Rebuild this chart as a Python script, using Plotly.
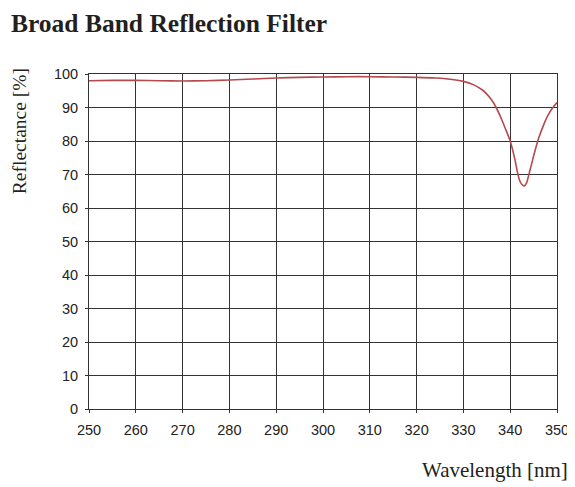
import plotly.graph_objects as go

# wavelength [nm] and reflectance [%]
wavelength = [250, 255, 260, 265, 270, 275, 280, 285, 290, 295, 300, 305, 310, 315, 320,
              324, 328, 330, 332, 334, 335, 336, 337, 338, 339, 340, 341, 341.5, 342, 342.5,
              343, 343.5, 344, 345, 346, 347, 348, 349, 350]
reflectance = [98.0, 98.1, 98.1, 98.0, 97.9, 98.0, 98.2, 98.5, 98.8, 99.0, 99.1, 99.2, 99.2, 99.1, 99.0,
               98.8, 98.3, 97.8, 96.9, 95.3, 94.0, 92.3, 90.0, 87.0, 83.6, 80.0, 74.5, 71.0, 68.3, 67.0,
               66.6, 67.5, 70.0, 75.5, 80.5, 84.3, 87.5, 89.8, 91.5]

xticks = list(range(250, 351, 10))
yticks = list(range(0, 101, 10))

fig = go.Figure()
fig.add_trace(go.Scatter(x=wavelength, y=reflectance, mode='lines',
                         line=dict(color='#b44a4e', width=1.6, shape='spline', smoothing=0.6),
                         showlegend=False))

axis_common = dict(showgrid=True, gridcolor='#333333', gridwidth=1,
                   showline=True, linecolor='#333333', linewidth=1, mirror=True,
                   ticks='outside', ticklen=3, tickcolor='#333333', zeroline=False,
                   automargin=False,
                   tickfont=dict(family='Liberation Sans, Arial, sans-serif', size=14.5, color='#222222'))

fig.update_xaxes(range=[250, 350], tickvals=xticks, ticklabelstandoff=5, **axis_common)
fig.update_yaxes(range=[0, 100], tickvals=yticks, ticklabelstandoff=4, **axis_common)

# the page body adds an 8px margin, so the figure is a bit smaller than the window
fig.update_layout(
    width=567, height=479,
    margin=dict(l=81, r=18, t=66, b=78),
    plot_bgcolor='white', paper_bgcolor='white',
    annotations=[
        dict(text='<b>Broad Band Reflection Filter</b>', xref='paper', yref='paper',
             x=-0.172, y=1.152, xanchor='left', yanchor='middle', showarrow=False,
             font=dict(family='Liberation Serif, serif', size=25.5, color='#231f20')),
        dict(text='Reflectance [%]', xref='paper', yref='paper', x=-0.147, y=0.83,
             xanchor='center', yanchor='middle', textangle=-90, showarrow=False,
             font=dict(family='Liberation Serif, serif', size=19.5, color='#231f20')),
        dict(text='Wavelength [nm]', xref='paper', yref='paper', x=1.028, y=-0.182,
             xanchor='right', yanchor='middle', showarrow=False,
             font=dict(family='Liberation Serif, serif', size=21, color='#231f20')),
    ],
)

fig.write_html("out.html")
